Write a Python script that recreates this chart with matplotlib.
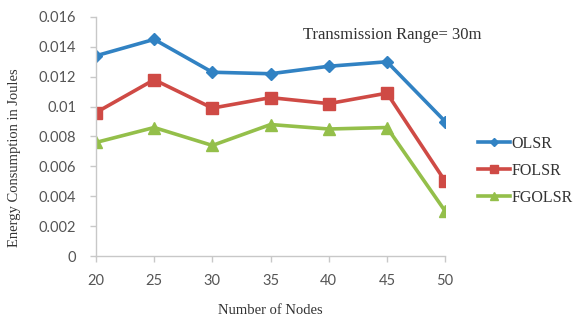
import matplotlib.pyplot as plt

nodes = [20, 25, 30, 35, 40, 45, 50]
olsr = [0.0134, 0.0145, 0.0123, 0.0122, 0.0127, 0.0130, 0.0090]
folsr = [0.0096, 0.0118, 0.0099, 0.0106, 0.0102, 0.0109, 0.0050]
fgolsr = [0.0076, 0.0086, 0.0074, 0.0088, 0.0085, 0.0086, 0.0030]
yticks = [0, 0.002, 0.004, 0.006, 0.008, 0.01, 0.012, 0.014, 0.016]
ytick_labels = ['0', '0.002', '0.004', '0.006', '0.008', '0.01', '0.012', '0.014', '0.016']

serif = 'Liberation Serif'
sans = 'Lato'

fig = plt.figure(figsize=(5.85, 3.2), dpi=100)
ax = fig.add_axes([0.164, 0.2, 0.597, 0.747])

ax.plot(nodes, olsr, color='#3182c3', lw=2.6, marker='D', ms=6, label='OLSR')
ax.plot(nodes, folsr, color='#cf4a45', lw=2.6, marker='s', ms=8, label='FOLSR')
ax.plot(nodes, fgolsr, color='#94bf4a', lw=2.6, marker='^', ms=8, label='FGOLSR')

ax.set_xlim(20, 50)
ax.set_ylim(0, 0.016)
ax.set_xticks(nodes)
ax.set_yticks(yticks)
ax.set_yticklabels(ytick_labels)
for lab in ax.get_xticklabels() + ax.get_yticklabels():
    lab.set_family(sans)
    lab.set_fontsize(10.5)
    lab.set_color('#555555')

for s in ['top', 'right']:
    ax.spines[s].set_visible(False)
for s in ['left', 'bottom']:
    ax.spines[s].set_color('#c8c8c8')
    ax.spines[s].set_linewidth(1.0)
ax.tick_params(axis='both', direction='out', color='#c8c8c8', length=4, width=1)
ax.tick_params(axis='x', pad=9)
ax.tick_params(axis='y', pad=10)

ax.set_xlabel('Number of Nodes', family=serif, fontsize=10.5, color='#333333')
ax.set_ylabel('Energy Consumption in Joules', family=serif, fontsize=10.5, color='#333333')
ax.xaxis.set_label_coords(0.5, -0.2)
ax.yaxis.set_label_coords(-0.215, 0.41)

fig.text(0.518, 0.89, 'Transmission Range= 30m', family=serif, fontsize=12, color='#333333',
         va='center', ha='left')

fig.legend(loc='center left', bbox_to_anchor=(0.817, 0.466), frameon=False,
           prop={'family': serif, 'size': 11.5}, handlelength=2.0, handletextpad=0.1,
           borderaxespad=0, borderpad=0, labelspacing=0.7, markerscale=0.75,
           labelcolor='#333333')

fig.savefig('out.png', dpi=100)
